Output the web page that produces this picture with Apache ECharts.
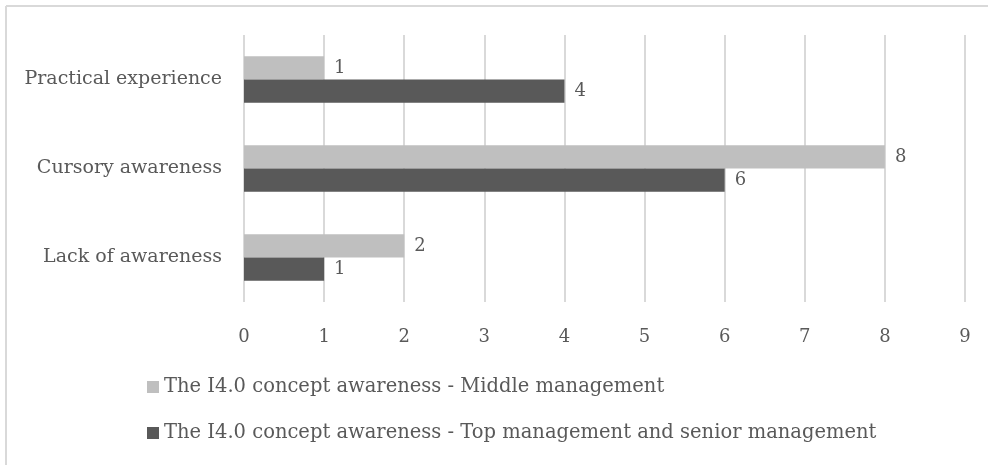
<!DOCTYPE html>
<html>
<head>
<meta charset="utf-8">
<script src="https://cdn.jsdelivr.net/npm/echarts@6/dist/echarts.min.js"></script>
<style>
  html, body { margin: 0; padding: 0; background: #fff; }
  #chart { width: 988px; height: 465px; }
</style>
</head>
<body>
<div id="chart"></div>
<script>
// Awareness levels, listed bottom to top on the category axis
const categories = ['Lack of awareness', 'Cursory awareness', 'Practical experience'];
const seriesNames = [
  'The I4.0 concept awareness - Middle management',
  'The I4.0 concept awareness - Top management and senior management'
];
const middleManagement = [2, 8, 1];
const topManagement = [1, 6, 4];
const xTicks = [0, 1, 2, 3, 4, 5, 6, 7, 8, 9];

const FONT = 'DejaVu Serif';
const TEXT = '#595959';

const chart = echarts.init(document.getElementById('chart'), null, { renderer: 'canvas' });

const valueLabel = {
  show: true,
  position: 'right',
  distance: 10,
  fontFamily: FONT,
  fontSize: 18,
  color: TEXT
};

chart.setOption({
  animation: false,
  backgroundColor: '#ffffff',
  graphic: [
    { type: 'line', shape: { x1: 6, y1: 6, x2: 988, y2: 6 }, style: { stroke: '#d9d9d9', lineWidth: 2 } },
    { type: 'line', shape: { x1: 6, y1: 6, x2: 6, y2: 465 }, style: { stroke: '#d9d9d9', lineWidth: 2 } }
  ],
  grid: { left: 244, right: 23, top: 35, bottom: 163, containLabel: false },
  legend: {
    orient: 'vertical',
    left: 142,
    top: 372,
    itemGap: 26,
    itemWidth: 12,
    itemHeight: 12,
    itemStyle: { borderWidth: 0 },
    icon: 'rect',
    textStyle: { fontFamily: FONT, fontSize: 19.5, color: TEXT },
    data: seriesNames
  },
  xAxis: {
    type: 'value',
    min: xTicks[0],
    max: xTicks[xTicks.length - 1],
    interval: 1,
    axisLine: { show: false },
    axisTick: { show: false },
    splitLine: { show: true, lineStyle: { color: '#d9d9d9', width: 2 } },
    axisLabel: { margin: 26, fontFamily: FONT, fontSize: 18, color: TEXT }
  },
  yAxis: {
    type: 'category',
    data: categories,
    axisLine: { show: false },
    axisTick: { show: false },
    axisLabel: { margin: 22, fontFamily: FONT, fontSize: 19, color: TEXT }
  },
  series: [
    {
      name: seriesNames[0],
      type: 'bar',
      data: middleManagement,
      itemStyle: { color: '#bfbfbf' },
      barGap: '0%',
      barCategoryGap: '48%',
      label: valueLabel
    },
    {
      name: seriesNames[1],
      type: 'bar',
      data: topManagement,
      itemStyle: { color: '#595959' },
      barGap: '0%',
      barCategoryGap: '48%',
      label: valueLabel
    }
  ]
});
</script>
</body>
</html>
